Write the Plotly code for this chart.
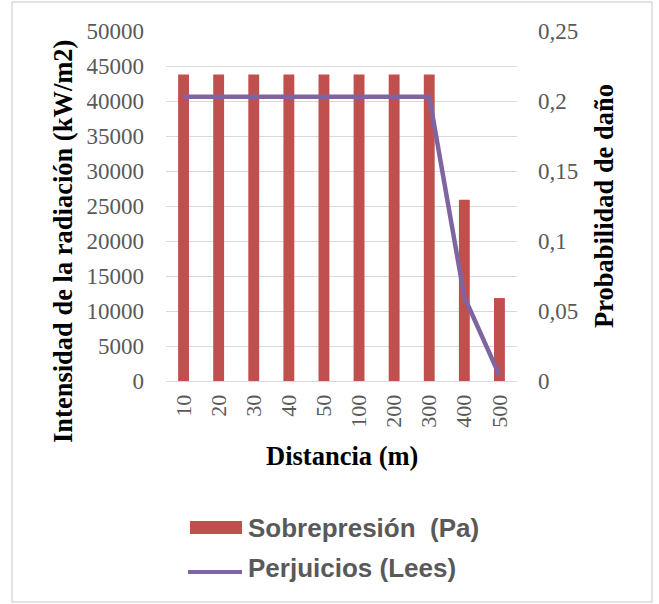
import plotly.graph_objects as go

# Distances (m) and the two series
distancias = ["10", "20", "30", "40", "50", "100", "200", "300", "400", "500"]
sobrepresion = [43800, 43800, 43800, 43800, 43800, 43800, 43800, 43800, 25900, 11850]
perjuicios = [0.203, 0.203, 0.203, 0.203, 0.203, 0.203, 0.203, 0.203, 0.060, 0.004]

BAR_COLOR = "#c0504d"
LINE_COLOR = "#8064a2"
TICK_COLOR = "#595959"
GRID_COLOR = "#d9d9d9"
SERIF = "Liberation Serif, Times New Roman, serif"
SANS = "Liberation Sans, Arial, sans-serif"

# plot area in pixels: x 166..517, y 31..381
L, R, T, B = 166, 517, 31, 381
W, H = R - L, B - T


def px(x):
    return (x - L) / W


def py(y):
    return (B - y) / H


fig = go.Figure()
fig.add_trace(go.Bar(
    x=distancias, y=sobrepresion, name="Sobrepresión  (Pa)",
    marker=dict(color=BAR_COLOR, line=dict(width=0)),
    yaxis="y", showlegend=False,
))
fig.add_trace(go.Scatter(
    x=distancias, y=perjuicios, name="Perjuicios (Lees)",
    mode="lines", line=dict(color=LINE_COLOR, width=4.5),
    yaxis="y2", showlegend=False,
))

fig.update_layout(
    width=659, height=604,
    margin=dict(l=L, r=659 - R, t=T, b=604 - B),
    paper_bgcolor="white", plot_bgcolor="white",
    separators=", ",
    bargap=0.69,
    xaxis=dict(
        type="category", tickangle=-90, showgrid=False, zeroline=False,
        showline=True, linecolor=GRID_COLOR, linewidth=1, ticks="",
        tickfont=dict(family=SERIF, size=22, color=TICK_COLOR),
        ticklabelstandoff=4,
    ),
    yaxis=dict(
        range=[0, 50000], dtick=5000, tickformat="d",
        showgrid=True, gridcolor=GRID_COLOR, gridwidth=1, zeroline=False,
        ticks="", tickfont=dict(family=SERIF, size=23, color=TICK_COLOR),
        ticklabelstandoff=21,
    ),
    yaxis2=dict(
        range=[0, 0.25], dtick=0.05, overlaying="y", side="right",
        showgrid=False, zeroline=False, ticks="",
        tickfont=dict(family=SERIF, size=23, color=TICK_COLOR),
        ticklabelstandoff=20,
    ),
    font=dict(family=SERIF),
    shapes=[
        # chart frame
        dict(type="rect", xref="paper", yref="paper", layer="below",
             x0=px(12), x1=px(652), y0=py(602), y1=py(2),
             line=dict(color="#d9d9d9", width=1.5), fillcolor="rgba(0,0,0,0)"),
        # legend keys
        dict(type="rect", xref="paper", yref="paper",
             x0=px(190), x1=px(242), y0=py(534), y1=py(521),
             line=dict(width=0), fillcolor=BAR_COLOR),
        dict(type="line", xref="paper", yref="paper",
             x0=px(188), x1=px(242), y0=py(572), y1=py(572),
             line=dict(color=LINE_COLOR, width=4)),
    ],
    annotations=[
        dict(text="<b>Intensidad de la radiación (kW/m2)</b>", textangle=-90,
             xref="paper", yref="paper", x=px(63), y=py(242),
             showarrow=False, xanchor="center", yanchor="middle",
             font=dict(family=SERIF, size=26.5, color="black")),
        dict(text="<b>Probabilidad de daño</b>", textangle=-90,
             xref="paper", yref="paper", x=px(604), y=py(206),
             showarrow=False, xanchor="center", yanchor="middle",
             font=dict(family=SERIF, size=26.5, color="black")),
        dict(text="<b>Distancia (m)</b>",
             xref="paper", yref="paper", x=px(342), y=py(456),
             showarrow=False, xanchor="center", yanchor="middle",
             font=dict(family=SERIF, size=26.5, color="black")),
        dict(text="<b>Sobrepresión  (Pa)</b>",
             xref="paper", yref="paper", x=px(246), y=py(528),
             showarrow=False, xanchor="left", yanchor="middle",
             font=dict(family=SANS, size=26, color=TICK_COLOR)),
        dict(text="<b>Perjuicios (Lees)</b>",
             xref="paper", yref="paper", x=px(246), y=py(568),
             showarrow=False, xanchor="left", yanchor="middle",
             font=dict(family=SANS, size=26, color=TICK_COLOR)),
    ],
)

fig.write_html("out.html")
